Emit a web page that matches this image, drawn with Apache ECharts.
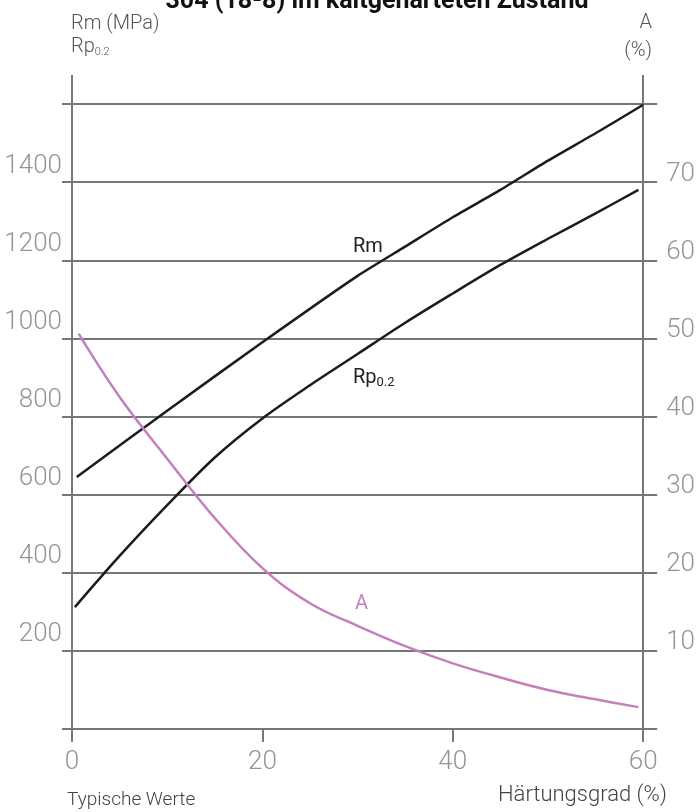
<!DOCTYPE html>
<html>
<head>
<meta charset="utf-8">
<script src="https://cdn.jsdelivr.net/npm/echarts@6/dist/echarts.min.js"></script>
<style>html,body{margin:0;padding:0;background:#fff;}#c{width:698px;height:812px;}</style>
</head>
<body>
<div id="c"></div>
<script>
// Härtungsgrad (%) — x values
const rmX = [0.5, 10, 20, 30, 35, 40, 45, 50, 55, 60];
const rmY = [645, 815, 990, 1160, 1235, 1310, 1380, 1455, 1525, 1598];
const rpX = [0.3, 5, 10, 15, 20, 25, 30, 35, 40, 45, 50, 55, 59.5];
const rpY = [312, 443, 573, 695, 795, 880, 960, 1040, 1115, 1188, 1255, 1320, 1380];
const aX = [0.7, 5, 10, 15, 20, 25, 30, 35, 40, 45, 50, 55, 59.5];
const aY = [50.6, 42.5, 34.6, 27, 20.6, 16.1, 13.2, 10.6, 8.4, 6.6, 5.0, 3.8, 2.8];
const xTicks = [0, 20, 40, 60];
const leftTicks = [200, 400, 600, 800, 1000, 1200, 1400];
const rightTicks = [10, 20, 30, 40, 50, 60, 70];

const pair = (xs, ys) => xs.map((x, i) => [x, ys[i]]);
const GRID = '#767676';
const LBL = '#959595';
const FF = 'Roboto, "DejaVu Sans", sans-serif';

const chart = echarts.init(document.getElementById('c'), null, {renderer: 'canvas'});
chart.setOption({
  animation: false,
  grid: {left: 72, right: 49, top: 104, bottom: 83, containLabel: false},
  xAxis: [
    {
      type: 'value', min: 0, max: 60, interval: 20, position: 'bottom',
      axisLine: {show: true, onZero: false, lineStyle: {color: GRID, width: 2}},
      axisTick: {show: true, length: 13, lineStyle: {color: GRID, width: 2}},
      axisLabel: {
        margin: 20, fontSize: 26, color: LBL, fontFamily: FF, fontWeight: 300,
        formatter: v => xTicks.includes(v) ? String(v) : ''
      },
      splitLine: {show: false}
    },
    {
      type: 'value', min: 0, max: 60, interval: 60, position: 'top',
      axisLine: {show: false, onZero: false},
      axisTick: {show: true, length: 29, lineStyle: {color: GRID, width: 2}},
      axisLabel: {show: false},
      splitLine: {show: false}
    }
  ],
  yAxis: [
    {
      type: 'value', min: 0, max: 1600, interval: 200, position: 'left',
      axisLine: {show: true, onZero: false, lineStyle: {color: GRID, width: 2}},
      axisTick: {show: true, length: 10, lineStyle: {color: GRID, width: 2}},
      splitLine: {show: true, lineStyle: {color: GRID, width: 2}},
      axisLabel: {
        margin: 10, fontSize: 26, color: LBL, fontFamily: FF, fontWeight: 300,
        verticalAlign: 'middle', lineHeight: 32,
        formatter: v => leftTicks.includes(v) ? String(v) + '\n ' : ''
      }
    },
    {
      type: 'value', min: 0, max: 80, interval: 10, position: 'right',
      axisLine: {show: true, onZero: false, lineStyle: {color: GRID, width: 2}},
      axisTick: {show: true, length: 14, lineStyle: {color: GRID, width: 2}},
      splitLine: {show: false},
      axisLabel: {
        margin: 23, fontSize: 26, color: LBL, fontFamily: FF, fontWeight: 300,
        align: 'left', verticalAlign: 'middle', lineHeight: 16,
        formatter: v => rightTicks.includes(v) ? String(v) + '\n ' : ''
      }
    }
  ],
  series: [
    {name: 'Rm', type: 'line', yAxisIndex: 0, data: pair(rmX, rmY), smooth: 0.2, symbol: 'none',
     lineStyle: {color: '#1c1c1c', width: 2.5}},
    {name: 'Rp0.2', type: 'line', yAxisIndex: 0, data: pair(rpX, rpY), smooth: 0.3, symbol: 'none',
     lineStyle: {color: '#1c1c1c', width: 2.5}},
    {name: 'A', type: 'line', yAxisIndex: 1, data: pair(aX, aY), smooth: 0.4, symbol: 'none',
     lineStyle: {color: '#c57fbf', width: 2.5}}
  ],
  graphic: [
    {type: 'text', x: 377, y: 14, style: {text: '304 (18-8) im kaltgehärteten Zustand', font: 'bold 25px ' + FF, fill: '#111', align: 'center', verticalAlign: 'bottom'}},
    {type: 'text', x: 71, y: 24, style: {text: 'Rm (MPa)', font: '300 20px ' + FF, fill: '#555', align: 'left', verticalAlign: 'middle'}},
    {type: 'text', x: 71, y: 47, style: {
      text: '{a|Rp}{b|0.2}', align: 'left', verticalAlign: 'middle',
      rich: {a: {fontSize: 20, fontFamily: FF, fontWeight: 300, fill: '#555'},
             b: {fontSize: 11, fontFamily: FF, fontWeight: 300, fill: '#555', padding: [10, 0, 0, 0]}}
    }},
    {type: 'text', x: 652, y: 23, style: {text: 'A', font: '300 20px ' + FF, fill: '#555', align: 'right', verticalAlign: 'middle'}},
    {type: 'text', x: 652, y: 51, style: {text: '(%)', font: '300 20px ' + FF, fill: '#555', align: 'right', verticalAlign: 'middle'}},
    {type: 'text', x: 353, y: 247, style: {text: 'Rm', font: '20px ' + FF, fill: '#222', align: 'left', verticalAlign: 'middle'}},
    {type: 'text', x: 353, y: 378, style: {
      text: '{a|Rp}{b|0.2}', align: 'left', verticalAlign: 'middle',
      rich: {a: {fontSize: 20, fontFamily: FF, fill: '#222'},
             b: {fontSize: 13, fontFamily: FF, fill: '#222', padding: [10, 0, 0, 0]}}
    }},
    {type: 'text', x: 355, y: 604, style: {text: 'A', font: '20px ' + FF, fill: '#c57fbf', align: 'left', verticalAlign: 'middle'}},
    {type: 'text', x: 67, y: 800, style: {text: 'Typische Werte', font: '300 19px ' + FF, fill: '#444', align: 'left', verticalAlign: 'middle'}},
    {type: 'text', x: 667, y: 795, style: {text: 'Härtungsgrad (%)', font: '300 22px ' + FF, fill: '#444', align: 'right', verticalAlign: 'middle'}}
  ]
});
</script>
</body>
</html>
